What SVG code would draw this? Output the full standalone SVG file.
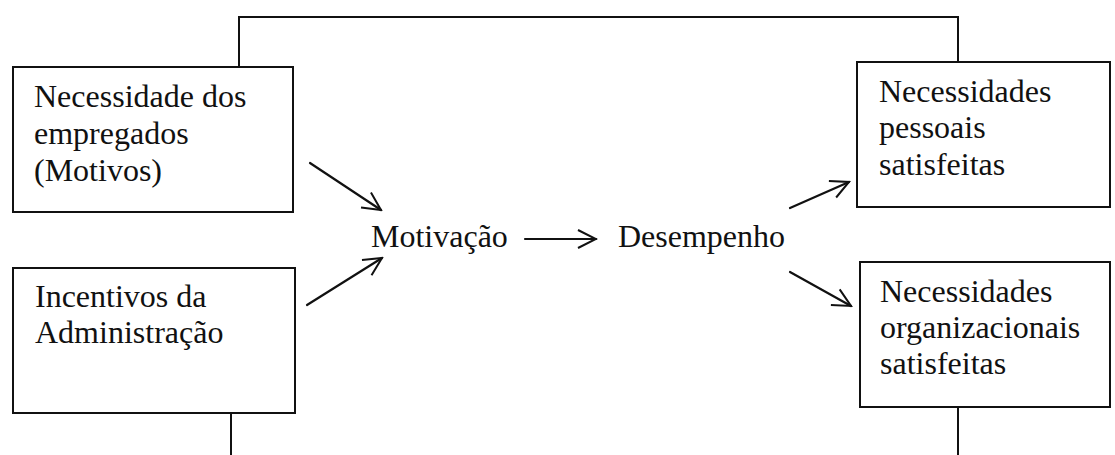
<svg xmlns="http://www.w3.org/2000/svg" width="1115" height="455" viewBox="0 0 1115 455">
<style>
.box{fill:#fff;stroke:#111;stroke-width:2}
.ln{fill:none;stroke:#111;stroke-width:2}
.ar{fill:none;stroke:#111;stroke-width:2.2;stroke-linecap:round}
.t{font-family:'Liberation Serif','Times New Roman',serif;font-size:32px;fill:#111}
</style>
<defs>
<marker id="v" viewBox="0 0 24 24" refX="22" refY="12" markerWidth="24" markerHeight="24" markerUnits="userSpaceOnUse" orient="auto">
<path d="M4,3 L22,12 L4,21" fill="none" stroke="#111" stroke-width="2"/>
</marker>
</defs>
<rect width="1115" height="455" fill="#fff"/>
<g id="connectors">
<path class="ln" d="M239,67 V17 H958 V62"/>
<path class="ln" d="M231,413 V455"/>
<path class="ln" d="M958,407 V455"/>
<line class="ar" x1="310" y1="163" x2="381" y2="210" marker-end="url(#v)"/>
<line class="ar" x1="307" y1="305" x2="382" y2="258" marker-end="url(#v)"/>
<line class="ar" x1="525" y1="239" x2="596" y2="239" marker-end="url(#v)"/>
<line class="ar" x1="790" y1="208" x2="849" y2="182" marker-end="url(#v)"/>
<line class="ar" x1="790" y1="272" x2="851" y2="306" marker-end="url(#v)"/>
</g>
<g id="n1" class="t" font-family="Liberation Serif, Times New Roman, serif">
<rect class="box" x="13" y="67" width="280" height="145"/>
<text x="34" y="107">Necessidade dos</text>
<text x="34" y="144">empregados</text>
<text x="34" y="181">(Motivos)</text>
</g>
<g id="n2" class="t" font-family="Liberation Serif, Times New Roman, serif">
<rect class="box" x="13" y="268" width="282" height="145"/>
<text x="35" y="307">Incentivos da</text>
<text x="35" y="343">Administração</text>
</g>
<g id="n3" class="t" font-family="Liberation Serif, Times New Roman, serif"><text x="371" y="247">Motivação</text></g>
<g id="n4" class="t" font-family="Liberation Serif, Times New Roman, serif"><text x="618" y="247">Desempenho</text></g>
<g id="n5" class="t" font-family="Liberation Serif, Times New Roman, serif">
<rect class="box" x="857" y="62" width="253" height="145"/>
<text x="879" y="102">Necessidades</text>
<text x="879" y="138">pessoais</text>
<text x="879" y="175">satisfeitas</text>
</g>
<g id="n6" class="t" font-family="Liberation Serif, Times New Roman, serif">
<rect class="box" x="860" y="262" width="250" height="145"/>
<text x="880" y="302">Necessidades</text>
<text x="880" y="338">organizacionais</text>
<text x="880" y="374">satisfeitas</text>
</g>
</svg>
